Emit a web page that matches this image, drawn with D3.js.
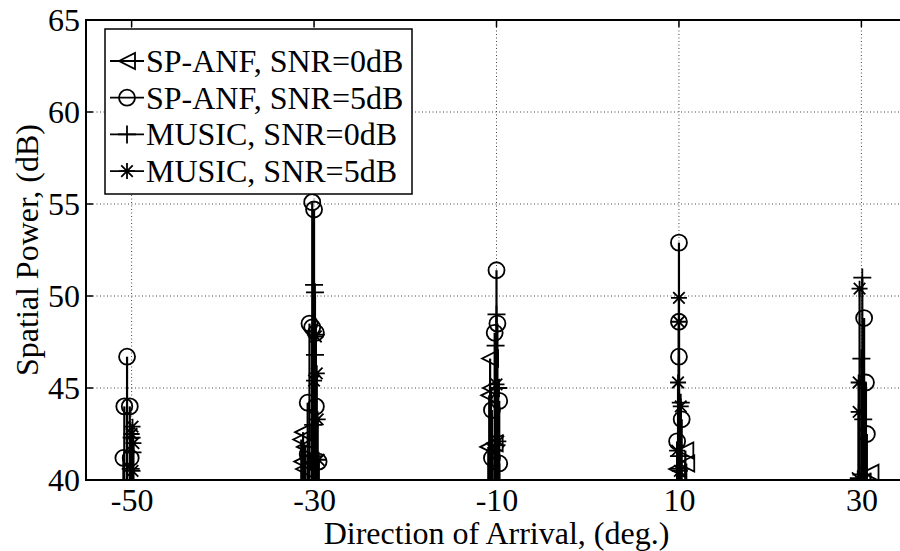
<!DOCTYPE html>
<meta charset="utf-8">
<style>
body { margin: 0; background: #fff; }
svg { display: block; }
text { font-family: "Liberation Serif", "Times New Roman", serif; fill: #000; }
.grid line { stroke: #444; stroke-width: 1; stroke-dasharray: 1,2.5; }
.stem { stroke: #000; stroke-width: 2.2; }
.mark { fill: none; stroke: #000; stroke-width: 1.8; }
</style>
<svg width="900" height="551"></svg>
<script src="https://cdnjs.cloudflare.com/ajax/libs/d3/7.8.5/d3.min.js"></script>
<script>

// tick labels
var xTicks = [-50, -30, -10, 10, 30];
var yTicks = [40, 45, 50, 55, 60, 65];

// SP-ANF, SNR=0dB (left triangles)
var anf0Doa = [-31.2, -31.4, -31.0, -31.3, -31.1, -10.7, -10.6, -10.8, -10.2, -10.9, 10.7, 10.8, 9.8, 31.0];
var anf0Pow = [42.6, 42.2, 41.8, 41.0, 40.6, 46.6, 45.0, 44.6, 42.0, 41.8, 41.6, 40.9, 40.6, 40.4];

// SP-ANF, SNR=5dB (circles)
var anf5Doa = [-50.5, -50.8, -50.2, -50.9, -50.1, -30.2, -30.0, -30.5, -30.2, -29.8, -30.7, -29.8, -30.7, -29.5,
  -10.0, -9.9, -10.2, -9.7, -10.5, -10.5, -9.7, 10.0, 10.0, 10.0, 10.3, 9.8, 30.3, 30.5, 30.6];
var anf5Pow = [46.7, 44.0, 44.0, 41.2, 41.2, 55.1, 54.7, 48.5, 48.3, 48.0, 44.2, 44.0, 41.4, 41.0,
  51.4, 48.5, 48.0, 44.3, 43.8, 41.2, 40.9, 52.9, 48.6, 46.7, 43.3, 42.1, 48.8, 45.3, 42.5];

// MUSIC, SNR=0dB (plus)
var mus0Doa = [-50.0, -49.9, -50.1, -30.0, -29.9, -29.8, -29.9, -30.1, -30.0, -10.0, -10.1, -9.8, -10.0,
  10.0, 10.1, 10.2, 30.1, 30.0, 30.2, 30.0];
var mus0Pow = [42.3, 41.5, 40.6, 50.6, 50.2, 47.9, 46.8, 43.0, 41.3, 49.0, 47.3, 45.0, 41.9,
  41.3, 40.6, 44.2, 51.0, 46.6, 43.3, 40.3];

// MUSIC, SNR=5dB (asterisks)
var mus5Doa = [-49.9, -50.0, -49.8, -49.9, -29.8, -29.7, -30.0, -29.6, -29.5, -10.0, -10.2, -9.8,
  10.0, 10.0, 9.9, 10.2, 9.8, 10.1, 29.8, 29.7, 29.7, 29.6];
var mus5Pow = [42.9, 42.5, 42.0, 40.5, 47.8, 45.8, 45.4, 43.3, 41.1, 45.2, 41.6, 42.1,
  49.9, 48.6, 45.3, 44.0, 41.6, 40.5, 50.4, 45.3, 43.7, 40.1];

var seriesNames = ["SP-ANF, SNR=0dB", "SP-ANF, SNR=5dB", "MUSIC, SNR=0dB", "MUSIC, SNR=5dB"];
var seriesShapes = ["tri", "circle", "plus", "star"];
var seriesDoa = [anf0Doa, anf5Doa, mus0Doa, mus5Doa];
var seriesPow = [anf0Pow, anf5Pow, mus0Pow, mus5Pow];

var svg = d3.select("svg"),
  pLeft = 86, pTop = 20, pRight = 907, pBottom = 480;

var x = d3.scaleLinear().domain([-55, 35]).range([pLeft, pRight]),
    y = d3.scaleLinear().domain([40, 65]).range([pBottom, pTop]);

// path for each marker, centred on 0,0
function marker(shape) {
  var r = 8;
  if (shape == "circle") {
    var p = d3.path();
    p.arc(0, 0, r, 0, 2 * Math.PI);
    p.closePath();
    return p.toString();
  }
  if (shape == "tri") return "M" + (-r) + ",0L" + r + "," + (-r) + "L" + r + "," + r + "Z";
  if (shape == "plus") return "M-9,0H9M0,-9V9";
  if (shape == "star") {
    var s = 8, d = s * 0.72;
    return "M" + (-s) + ",0H" + s + "M0," + (-s) + "V" + s +
      "M" + (-d) + "," + (-d) + "L" + d + "," + d + "M" + (-d) + "," + d + "L" + d + "," + (-d);
  }
}

svg.append("clipPath").attr("id", "plot")
  .append("rect").attr("x", pLeft).attr("y", pTop).attr("width", pRight - pLeft).attr("height", pBottom - pTop);

// grid
var grid = svg.append("g").attr("class", "grid");
grid.selectAll(".gy").data(yTicks.filter(function(d) { return d > 40 && d < 65; }))
  .enter().append("line")
    .attr("x1", pLeft).attr("x2", pRight)
    .attr("y1", function(d) { return y(d); }).attr("y2", function(d) { return y(d); });
grid.selectAll(".gx").data(xTicks)
  .enter().append("line")
    .attr("y1", pTop).attr("y2", pBottom)
    .attr("x1", function(d) { return x(d); }).attr("x2", function(d) { return x(d); });

// stems and markers
var plot = svg.append("g").attr("clip-path", "url(#plot)");
seriesShapes.forEach(function(shape, i) {
  var pts = seriesDoa[i].map(function(d, j) { return {doa: d, pow: seriesPow[i][j]}; });
  var g = plot.append("g");
  g.selectAll("line").data(pts).enter().append("line")
    .attr("class", "stem")
    .attr("x1", function(d) { return x(d.doa); }).attr("x2", function(d) { return x(d.doa); })
    .attr("y1", pBottom + 2)
    .attr("y2", function(d) { return y(d.pow); });
  g.selectAll("path").data(pts).enter().append("path")
    .attr("class", "mark")
    .attr("d", marker(shape))
    .attr("transform", function(d) { return "translate(" + x(d.doa) + "," + y(d.pow) + ")"; });
});

// axes
var fmt = function(d) { return String(d); };
var bottomAxis = d3.axisBottom(x).tickValues(xTicks).tickSize(0).tickPadding(8).tickFormat(fmt);
var leftAxis = d3.axisLeft(y).tickValues(yTicks).tickSize(0).tickPadding(6).tickFormat(fmt);

svg.append("g").attr("transform", "translate(0," + pBottom + ")").call(bottomAxis)
  .call(function(g) {
    g.select(".domain").remove();
    g.selectAll("text").attr("font-size", 32).attr("font-family", "Liberation Serif").attr("dy", "0.72em");
  });
svg.append("g").attr("transform", "translate(" + pLeft + ",0)").call(leftAxis)
  .call(function(g) {
    g.select(".domain").remove();
    g.selectAll("text").attr("font-size", 32).attr("font-family", "Liberation Serif").attr("dy", "0.34em");
  });

// inward ticks
var ticks = svg.append("g").attr("stroke", "#000").attr("stroke-width", 1.5);
xTicks.forEach(function(t) {
  ticks.append("line").attr("x1", x(t)).attr("x2", x(t)).attr("y1", pTop).attr("y2", pTop + 7);
  ticks.append("line").attr("x1", x(t)).attr("x2", x(t)).attr("y1", pBottom).attr("y2", pBottom - 7);
});
yTicks.forEach(function(t) {
  ticks.append("line").attr("x1", pLeft).attr("x2", pLeft + 7).attr("y1", y(t)).attr("y2", y(t));
});

svg.append("path")
  .attr("d", "M" + pRight + "," + pTop + "H" + pLeft + "V" + pBottom + "H" + pRight)
  .attr("fill", "none").attr("stroke", "#000").attr("stroke-width", 2);

// axis labels
svg.append("text")
  .attr("x", x(-10)).attr("y", 544)
  .attr("text-anchor", "middle").attr("font-size", 32)
  .text("Direction of Arrival, (deg.)");
svg.append("text")
  .attr("transform", "translate(38," + ((pTop + pBottom) / 2) + ") rotate(-90)")
  .attr("text-anchor", "middle").attr("font-size", 32)
  .text("Spatial Power, (dB)");

// legend
var legend = svg.append("g");
legend.append("rect")
  .attr("x", 105).attr("y", 29).attr("width", 307).attr("height", 165)
  .attr("fill", "#fff").attr("stroke", "#000").attr("stroke-width", 1.5);
seriesNames.forEach(function(name, i) {
  var cy = 61 + i * 36.7;
  legend.append("line").attr("x1", 110).attr("x2", 144).attr("y1", cy).attr("y2", cy)
    .attr("stroke", "#000").attr("stroke-width", 1.8);
  legend.append("path").attr("class", "mark").attr("d", marker(seriesShapes[i]))
    .attr("transform", "translate(127," + cy + ")");
  legend.append("text").attr("x", 146).attr("y", cy + 11).attr("font-size", 32).text(name);
});
</script>
